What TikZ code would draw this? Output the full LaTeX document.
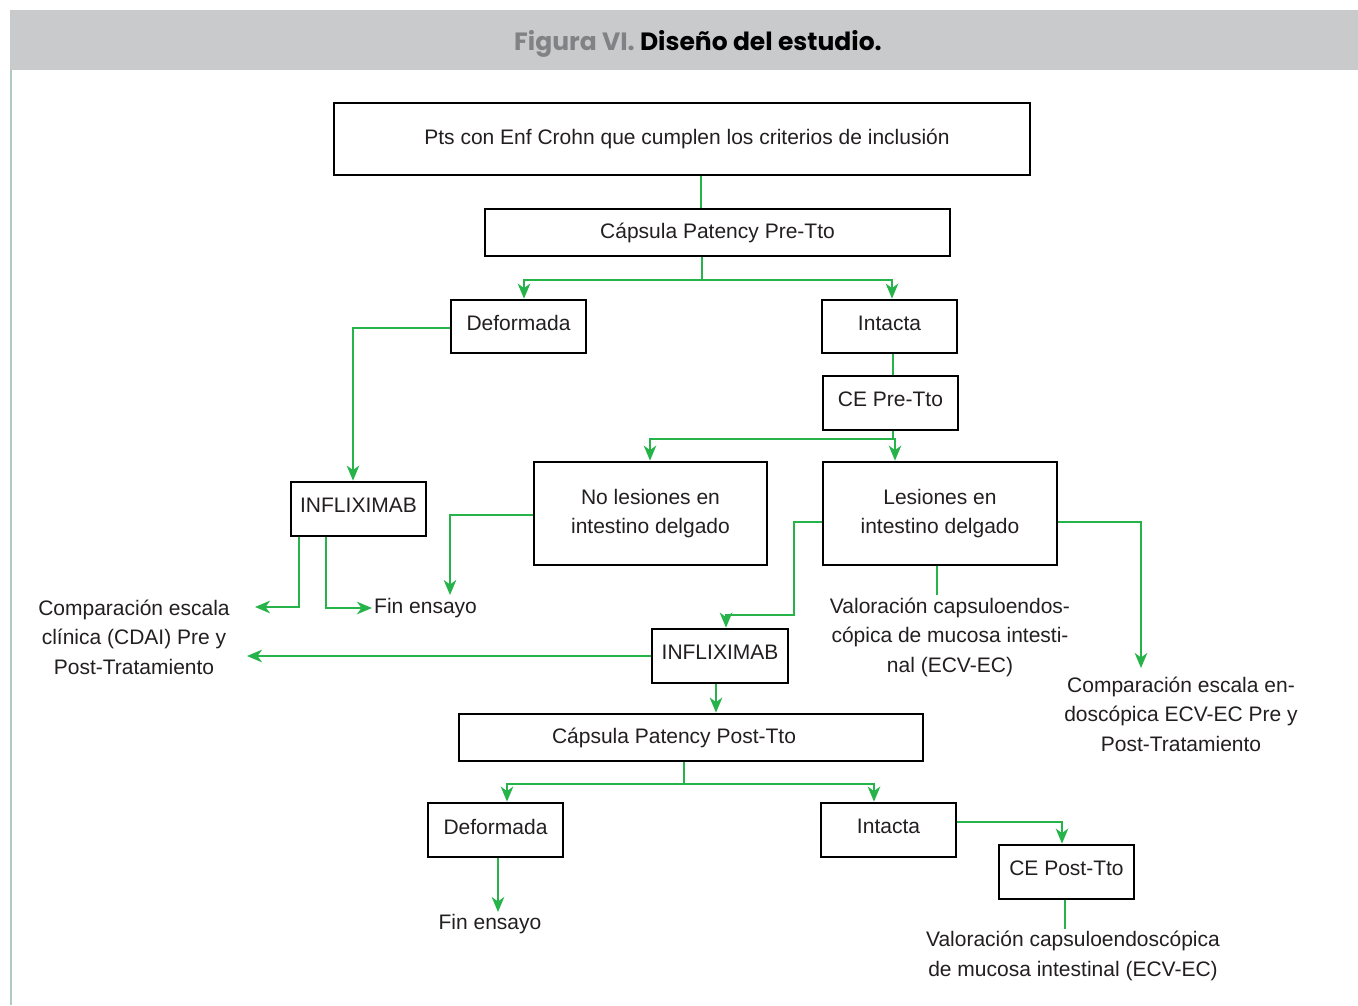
\documentclass[tikz,border=0pt]{standalone}
\usepackage{fontspec}
\setmainfont{Liberation Sans}
\newfontfamily\titlefont{Poppins}
\usetikzlibrary{arrows.meta}
\definecolor{flowgreen}{RGB}{38,180,74}
\definecolor{hdrgray}{RGB}{201,202,204}
\definecolor{edgegray}{RGB}{176,204,194}
\definecolor{titlegray}{RGB}{128,130,133}
\definecolor{txt}{RGB}{35,31,32}
\begin{document}
\begin{tikzpicture}[x=1pt,y=-1pt,
  every node/.style={font=\fontsize{21}{29.5}\selectfont, text=txt},
  box/.style={draw=black, line width=2.8pt, fill=white, inner sep=0pt},
  sbox/.style={box, text depth=7pt},
  lbl/.style={align=center, inner sep=2pt},
  gl/.style={draw=flowgreen, line width=2pt},
  ga/.style={gl, -{Stealth[length=15pt,width=12.5pt,inset=4.5pt]}}]
\useasboundingbox (0,0) rectangle (1358,1005);
\fill[white] (0,0) rectangle (1358,1005);
\fill[hdrgray] (10,10) rectangle (1358,70);
\draw[edgegray, line width=2.2pt] (11,70) -- (11,1005);
\node[inner sep=0pt] (title) at (698,44) {\titlefont\bfseries\fontsize{25}{28}\selectfont\color{titlegray}Figura VI. \color{black}Diseño del estudio.};

% boxes
\node[box, minimum width=696pt, minimum height=72pt] (top) at (682,139) {Pts con Enf Crohn que cumplen los criterios de inclusión\hspace*{-10pt}};
\node[box, minimum width=465pt, minimum height=47pt] (pre) at (717.5,232.5) {Cápsula Patency Pre-Tto};
\node[sbox, minimum width=135pt, minimum height=53pt] (def1) at (518.5,326.5) {Deformada};
\node[sbox, minimum width=135pt, minimum height=53pt] (int1) at (889.5,326.5) {Intacta};
\node[sbox, minimum width=135pt, minimum height=54pt] (ce1) at (890.5,403) {CE Pre-Tto};
\node[box, minimum width=233pt, minimum height=103pt, align=center] (nol) at (650.5,513.5) {No lesiones en\\intestino delgado};
\node[box, minimum width=234pt, minimum height=103pt, align=center] (les) at (940,513.5) {Lesiones en\\intestino delgado};
\node[sbox, minimum width=135pt, minimum height=54pt] (inf1) at (358.5,509) {INFLIXIMAB};
\node[sbox, minimum width=136pt, minimum height=54pt] (inf2) at (720,656) {INFLIXIMAB};
\node[box, minimum width=464pt, minimum height=47pt] (post) at (691,737.5) {Cápsula Patency Post-Tto\hspace*{34pt}};
\node[sbox, minimum width=135pt, minimum height=54pt] (def2) at (495.5,830) {Deformada};
\node[sbox, minimum width=135pt, minimum height=54pt] (int2) at (888.5,830) {Intacta};
\node[sbox, minimum width=135pt, minimum height=54pt] (ce2) at (1066.5,872) {CE Post-Tto};

% text labels
\node[lbl, anchor=west] (finA) at (372,608) {Fin ensayo};
\node[lbl] (comp1) at (134,637) {Comparación escala\\clínica (CDAI) Pre y\\Post-Tratamiento};
\node[lbl] (val1) at (950,637) {Valoración capsuloendos-\\cópica de mucosa intesti-\\nal (ECV-EC)};
\node[lbl] (comp2) at (1181,714) {Comparación escala en-\\doscópica ECV-EC Pre y\\Post-Tratamiento};
\node[lbl] (fin2) at (490,924) {Fin ensayo};
\node[lbl] (val2) at (1073,956) {Valoración capsuloendoscópica\\de mucosa intestinal (ECV-EC)};

% junction / free-end coordinates
\coordinate (j1) at (702,280);
\coordinate (j2) at (893,439);
\coordinate (j3) at (684,784);
\coordinate (k1) at (794,615);
\coordinate (e1) at (255,607);
\coordinate (e2) at (450,595);
\coordinate (e3) at (247,656);
\coordinate (e4) at (1141,668);

% connectors
\draw[gl] ([xshift=19pt]top.south) -- ([xshift=19pt]top.south |- pre.north);
\draw[gl] ([xshift=-15.5pt]pre.south) -- (j1);
\draw[ga] (j1) -| ([xshift=5.5pt]def1.north);
\draw[ga] (j1) -| ([xshift=2.5pt]int1.north);
\draw[gl] ([xshift=3.5pt]int1.south) -- ([xshift=3.5pt]int1.south |- ce1.north);
\draw[gl] ([xshift=2.5pt]ce1.south) -- (j2);
\draw[ga] (j2) -| ([xshift=-0.5pt]nol.north);
\draw[ga] (j2) -| ([xshift=-45pt]les.north);
\draw[ga] ([yshift=-1.5pt]def1.west) -| ([xshift=-5.5pt]inf1.north);
\draw[ga] ([xshift=-59.5pt]inf1.south) |- (e1);
\draw[ga] ([xshift=-32.5pt]inf1.south) |- (finA.west);
\draw[ga] ([yshift=-1.5pt]nol.west) -| (e2);
\draw[ga] ([yshift=-8.5pt]les.west) -| (k1) -| ([xshift=6pt]inf2.north);
\draw[ga] ([yshift=-8.5pt]les.east) -| (e4);
\draw[gl] ([xshift=-3pt]les.south) -- ([xshift=-3pt]les.south |- val1.north);
\draw[ga] (inf2.west) -- (e3);
\draw[ga] ([xshift=-4pt]inf2.south) -- ([xshift=-4pt]inf2.south |- post.north);
\draw[gl] ([xshift=-7pt]post.south) -- (j3);
\draw[ga] (j3) -| ([xshift=11.5pt]def2.north);
\draw[ga] (j3) -| ([xshift=-14.5pt]int2.north);
\draw[ga] ([xshift=2.5pt]def2.south) -- ([xshift=2.5pt]def2.south |- fin2.north);
\draw[ga] ([yshift=8pt]int2.east) -| ([xshift=-4.5pt]ce2.north);
\draw[gl] ([xshift=-1.5pt]ce2.south) -- ([xshift=-1.5pt]ce2.south |- val2.north);
\end{tikzpicture}
\end{document}
